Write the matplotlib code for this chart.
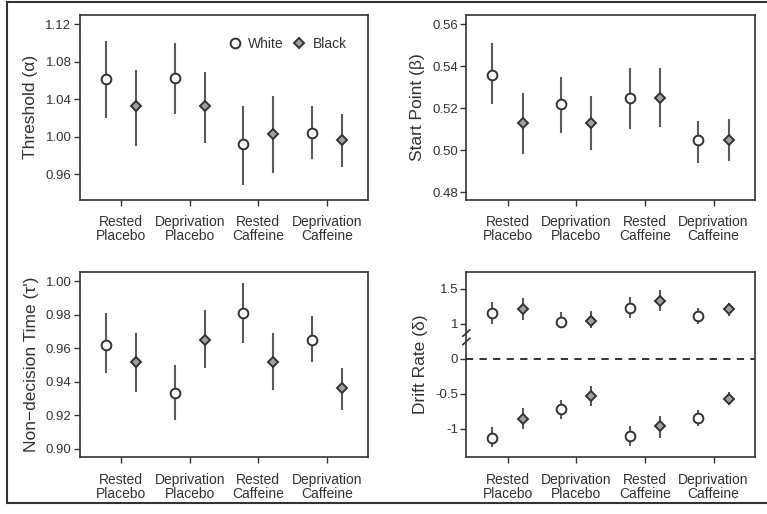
import numpy as np
import matplotlib.pyplot as plt
from matplotlib.lines import Line2D
from matplotlib.ticker import FixedLocator, FixedFormatter
import matplotlib.transforms as mtransforms

plt.rcParams['font.family'] = ['Liberation Sans', 'DejaVu Sans']

conditions = ['Rested\nPlacebo', 'Deprivation\nPlacebo', 'Rested\nCaffeine', 'Deprivation\nCaffeine']

# threshold (alpha): mean, lower, upper
thr_white = [1.062, 1.063, 0.992, 1.004]
thr_white_lo = [1.020, 1.024, 0.949, 0.976]
thr_white_hi = [1.102, 1.100, 1.033, 1.033]
thr_black = [1.033, 1.033, 1.003, 0.996]
thr_black_lo = [0.990, 0.993, 0.961, 0.968]
thr_black_hi = [1.071, 1.069, 1.043, 1.024]

# start point (beta)
sp_white = [0.536, 0.522, 0.525, 0.505]
sp_white_lo = [0.522, 0.508, 0.510, 0.494]
sp_white_hi = [0.551, 0.535, 0.539, 0.514]
sp_black = [0.513, 0.513, 0.525, 0.505]
sp_black_lo = [0.498, 0.500, 0.511, 0.495]
sp_black_hi = [0.527, 0.526, 0.539, 0.515]

# non-decision time (tau)
nd_white = [0.962, 0.933, 0.981, 0.965]
nd_white_lo = [0.945, 0.917, 0.963, 0.952]
nd_white_hi = [0.981, 0.950, 0.999, 0.979]
nd_black = [0.952, 0.965, 0.952, 0.936]
nd_black_lo = [0.934, 0.948, 0.935, 0.923]
nd_black_hi = [0.969, 0.983, 0.969, 0.948]

# drift rate (delta), positive and negative stimuli
dr_white_pos = [1.155, 1.031, 1.231, 1.107]
dr_white_pos_lo = [0.993, 0.889, 1.079, 0.993]
dr_white_pos_hi = [1.316, 1.169, 1.383, 1.231]
dr_black_pos = [1.221, 1.041, 1.335, 1.207]
dr_black_pos_lo = [1.064, 0.889, 1.183, 1.112]
dr_black_pos_hi = [1.373, 1.183, 1.492, 1.302]
dr_white_neg = [-1.123, -0.718, -1.098, -0.837]
dr_white_neg_lo = [-1.255, -0.861, -1.241, -0.956]
dr_white_neg_hi = [-0.971, -0.590, -0.956, -0.733]
dr_black_neg = [-0.856, -0.528, -0.961, -0.566]
dr_black_neg_lo = [-1.004, -0.670, -1.123, -0.661]
dr_black_neg_hi = [-0.704, -0.385, -0.813, -0.471]

TXT = '#333333'
BAR = '#5a5a5a'
EDGE = '#333333'
GREY = '#a0a0a0'
OFF = 0.22


def draw(ax, x, m, lo, hi, white):
    m = np.array(m)
    yerr = [m - np.array(lo), np.array(hi) - m]
    if white:
        ax.errorbar(x, m, yerr=yerr, fmt='o', ms=7.0, mfc='white', mec=EDGE,
                    mew=1.4, ecolor=BAR, elinewidth=1.5, capsize=0, zorder=3)
    else:
        ax.errorbar(x, m, yerr=yerr, fmt='D', ms=5.4, mfc=GREY, mec=EDGE,
                    mew=1.4, ecolor=BAR, elinewidth=1.5, capsize=0, zorder=3)


def style(ax, ylabel, yticks, ylabels, ylim):
    ax.set_xlim(0.4, 4.6)
    ax.set_xticks(np.arange(1, 5))
    ax.set_xticklabels(conditions, fontsize=10, color=TXT, linespacing=1.0)
    ax.yaxis.set_major_locator(FixedLocator(yticks))
    ax.yaxis.set_major_formatter(FixedFormatter(ylabels))
    ax.set_ylim(*ylim)
    ax.set_ylabel(ylabel, fontsize=12.5, color=TXT, labelpad=5)
    ax.tick_params(axis='x', length=4, width=1, color=EDGE, pad=7)
    ax.tick_params(axis='y', length=4, width=1, color=EDGE, pad=2,
                   labelsize=9.5, labelcolor=TXT)
    for s in ax.spines.values():
        s.set_linewidth(1.2)
        s.set_color(EDGE)


fig = plt.figure(figsize=(7.67, 5.14), dpi=100)
ax1 = fig.add_axes([0.104, 0.611, 0.376, 0.36])
ax2 = fig.add_axes([0.608, 0.611, 0.376, 0.36])
ax3 = fig.add_axes([0.104, 0.110, 0.376, 0.361])
ax4 = fig.add_axes([0.608, 0.110, 0.376, 0.361])

x = np.arange(1, 5)

draw(ax1, x - OFF, thr_white, thr_white_lo, thr_white_hi, True)
draw(ax1, x + OFF, thr_black, thr_black_lo, thr_black_hi, False)
t = [0.96, 1.00, 1.04, 1.08, 1.12]
style(ax1, 'Threshold (α)', t, ['%.2f' % v for v in t], (0.9326, 1.1299))

handles = [Line2D([], [], ls='none', marker='o', ms=7.0, mfc='white', mec=EDGE, mew=1.4),
           Line2D([], [], ls='none', marker='D', ms=5.4, mfc=GREY, mec=EDGE, mew=1.4)]
leg = ax1.legend(handles, ['White', 'Black'], ncol=2, frameon=False, loc='center right',
                 bbox_to_anchor=(0.925, 0.843), borderaxespad=0, borderpad=0,
                 handlelength=1.0, handletextpad=0.45, columnspacing=0.6, fontsize=10)
for txt in leg.get_texts():
    txt.set_color(TXT)

draw(ax2, x - OFF, sp_white, sp_white_lo, sp_white_hi, True)
draw(ax2, x + OFF, sp_black, sp_black_lo, sp_black_hi, False)
t = [0.48, 0.50, 0.52, 0.54, 0.56]
style(ax2, 'Start Point (β)', t, ['%.2f' % v for v in t], (0.4763, 0.5644))

draw(ax3, x - OFF, nd_white, nd_white_lo, nd_white_hi, True)
draw(ax3, x + OFF, nd_black, nd_black_lo, nd_black_hi, False)
t = [0.90, 0.92, 0.94, 0.96, 0.98, 1.00]
style(ax3, 'Non\u2212decision Time (τ\')', t, ['%.2f' % v for v in t], (0.8948, 1.0056))


# broken axis: the 0..1 gap is squeezed to half its height
def fwd(v):
    v = np.asarray(v, dtype=float)
    return np.where(v >= 1, v - 0.5, np.where(v <= 0, v, v * 0.5))


def inv(p):
    p = np.asarray(p, dtype=float)
    return np.where(p >= 0.5, p + 0.5, np.where(p <= 0, p, p * 2))


ax4.set_yscale('function', functions=(fwd, inv))
draw(ax4, x - OFF, dr_white_pos, dr_white_pos_lo, dr_white_pos_hi, True)
draw(ax4, x + OFF, dr_black_pos, dr_black_pos_lo, dr_black_pos_hi, False)
draw(ax4, x - OFF, dr_white_neg, dr_white_neg_lo, dr_white_neg_hi, True)
draw(ax4, x + OFF, dr_black_neg, dr_black_neg_lo, dr_black_neg_hi, False)
ax4.axhline(0, color='#222222', lw=1.3, ls=(0, (4, 3.5)), zorder=1)
style(ax4, 'Drift Rate (δ)', [-1, -0.5, 0, 1, 1.5], ['-1', '-0.5', '0', '1', '1.5'], (-1.407, 1.744))

# break marks on the left spine
trans = mtransforms.blended_transform_factory(ax4.transAxes, ax4.transData)
for yb in (0.74, 0.50):
    ax4.add_line(Line2D([-0.012, 0.012], [yb - 0.09, yb + 0.09], transform=trans,
                        color=EDGE, lw=1.2, clip_on=False))

# outer frame of the figure
W, H = 767.0, 514.0
fl, ft, fb = 7 / W, 1 - 2 / H, 1 - 503 / H
for xs, ys in [([fl, fl], [fb, ft]), ([fl, 1.0], [ft, ft]), ([fl, 1.0], [fb, fb])]:
    fig.add_artist(Line2D(xs, ys, transform=fig.transFigure, color='#333333', lw=1.5))

fig.savefig('out.png', dpi=100)
